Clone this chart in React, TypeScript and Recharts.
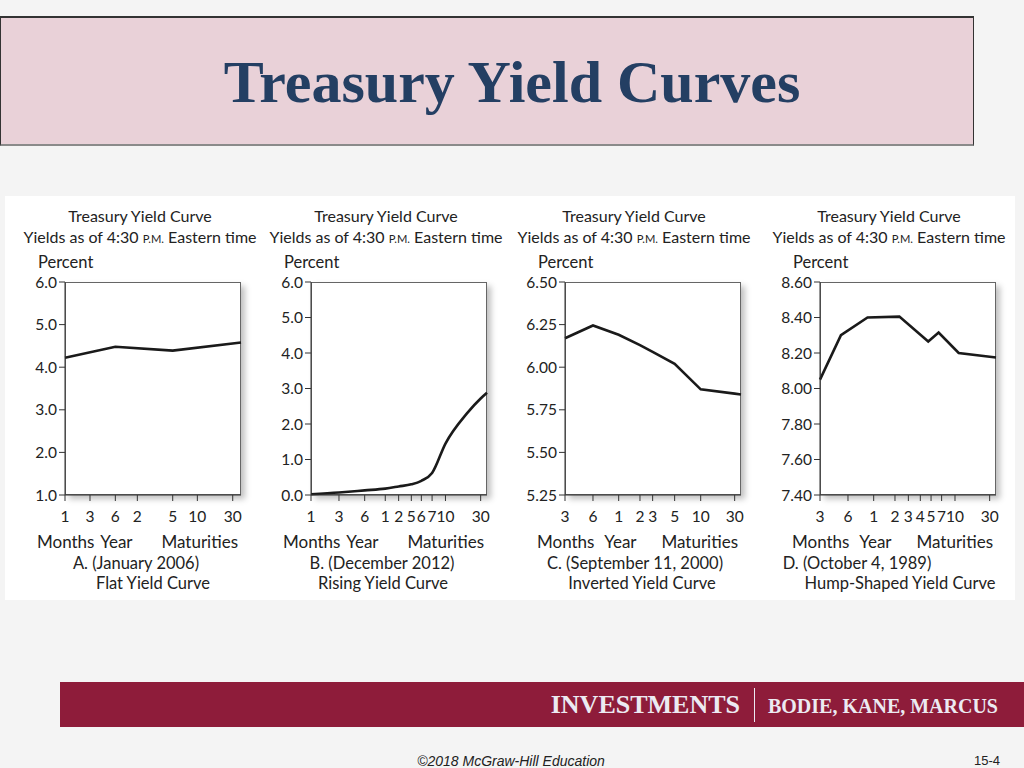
import React from 'react';
import { LineChart, Line, XAxis, YAxis } from 'recharts';

// ---------- Data ----------
// x positions are locations on each chart's (non-uniform) maturity axis, 0-100
const aTickPos = [0, 14.2, 28.6, 41.1, 61.2, 75.2, 95.3];
const aTickLabels = ['1', '3', '6', '2', '5', '10', '30'];
const aX = [0, 28.6, 61.2, 100];
const aY = [4.22, 4.48, 4.39, 4.58];
const aYTicks = [1, 2, 3, 4, 5, 6];

const bTickPos = [0, 15.9, 30.5, 42.2, 49.8, 57.0, 62.7, 68.8, 76.4, 96.4];
const bTickLabels = ['1', '3', '6', '1', '2', '5', '6', '7', '10', '30'];
const bX = [0, 15.9, 30.5, 42.2, 49.8, 57.0, 62.7, 68.8, 76.4, 88.6, 96.4, 100];
const bY = [0.02, 0.07, 0.13, 0.18, 0.24, 0.3, 0.4, 0.62, 1.45, 2.3, 2.72, 2.88];
const bYTicks = [0, 1, 2, 3, 4, 5, 6];

const cTickPos = [0, 15.9, 30.5, 42.6, 49.8, 62.3, 77.1, 96.4];
const cTickLabels = ['3', '6', '1', '2', '3', '5', '10', '30'];
const cX = [0, 15.9, 30.5, 42.6, 49.8, 62.3, 77.1, 96.4, 100];
const cY = [6.17, 6.245, 6.19, 6.13, 6.09, 6.02, 5.87, 5.845, 5.84];
const cYTicks = [5.25, 5.5, 5.75, 6.0, 6.25, 6.5];

const dTickPos = [0, 15.9, 30.5, 42.6, 50.2, 57.0, 63.1, 69.1, 76.7, 96.4];
const dTickLabels = ['3', '6', '1', '2', '3', '4', '5', '7', '10', '30'];
const dX = [0, 11.9, 27.0, 45.1, 61.5, 67.4, 78.8, 100];
const dY = [8.05, 8.3, 8.4, 8.405, 8.265, 8.315, 8.2, 8.175];
const dYTicks = [7.4, 7.6, 7.8, 8.0, 8.2, 8.4, 8.6];

const captions1 = ['A. (January 2006)', 'B. (December 2012)', 'C. (September 11, 2000)', 'D. (October 4, 1989)'];
const captions2 = ['Flat Yield Curve', 'Rising Yield Curve', 'Inverted Yield Curve', 'Hump-Shaped Yield Curve'];

// ---------- Layout ----------
const PLOT_TOP = 282;
const PLOT_W = 176;
const PLOT_H = 213;
const FONT = 'Lato, "Open Sans", sans-serif';
const INK = '#222';

type PanelCfg = {
  left: number;
  tickPos: number[];
  tickLabels: string[];
  xs: number[];
  ys: number[];
  yTicks: number[];
  decimals: number;
  curve: 'linear' | 'monotone';
  titleDx: number;
  cap1Dx: number;
  cap2Dx: number;
  caption1: string;
  caption2: string;
  monthsGap: number;
};

const panels: PanelCfg[] = [
  { left: 65, tickPos: aTickPos, tickLabels: aTickLabels, xs: aX, ys: aY, yTicks: aYTicks, decimals: 1, curve: 'linear', titleDx: 75, cap1Dx: 71, cap2Dx: 88, caption1: captions1[0], caption2: captions2[0], monthsGap: 2 },
  { left: 311, tickPos: bTickPos, tickLabels: bTickLabels, xs: bX, ys: bY, yTicks: bYTicks, decimals: 1, curve: 'monotone', titleDx: 75, cap1Dx: 71, cap2Dx: 72, caption1: captions1[1], caption2: captions2[1], monthsGap: 2 },
  { left: 565, tickPos: cTickPos, tickLabels: cTickLabels, xs: cX, ys: cY, yTicks: cYTicks, decimals: 2, curve: 'linear', titleDx: 69, cap1Dx: 70, cap2Dx: 77, caption1: captions1[2], caption2: captions2[2], monthsGap: 6 },
  { left: 820, tickPos: dTickPos, tickLabels: dTickLabels, xs: dX, ys: dY, yTicks: dYTicks, decimals: 2, curve: 'linear', titleDx: 69, cap1Dx: 37, cap2Dx: 80, caption1: captions1[3], caption2: captions2[3], monthsGap: 6 },
];

const centered = (cx: number, cy: number, text: React.ReactNode, extra: React.CSSProperties = {}) => (
  <div
    style={{
      position: 'absolute',
      left: cx - 200,
      width: 400,
      top: cy - 10,
      height: 20,
      lineHeight: '20px',
      textAlign: 'center',
      fontFamily: FONT,
      fontSize: 16,
      color: INK,
      whiteSpace: 'nowrap',
      ...extra,
    }}
  >
    {text}
  </div>
);

function Panel({ cfg }: { cfg: PanelCfg }) {
  const data = cfg.xs.map((x, i) => ({ x, y: cfg.ys[i] }));
  const L = cfg.left;
  const yAxisW = 60;
  const mTop = 10;
  const xAxisH = 35;
  return (
    <>
      {centered(L + cfg.titleDx, 216, 'Treasury Yield Curve')}
      {centered(
        L + cfg.titleDx,
        237,
        <span>
          Yields as of 4:30 <span style={{ fontSize: '0.7em' }}>P.M.</span> Eastern time
        </span>
      )}
      <div style={{ position: 'absolute', left: L - 27, top: 252, height: 20, lineHeight: '20px', fontFamily: FONT, fontSize: 16.5, color: INK }}>
        Percent
      </div>
      <div
        style={{
          position: 'absolute',
          left: L,
          top: PLOT_TOP,
          width: PLOT_W,
          height: PLOT_H,
          boxSizing: 'border-box',
          border: '1px solid #666',
          background: '#fff',
          boxShadow: '4px 4px 6px rgba(0,0,0,0.25)',
        }}
      />
      <div style={{ position: 'absolute', left: L - yAxisW, top: PLOT_TOP - mTop }}>
        <LineChart
          width={yAxisW + PLOT_W + 10}
          height={mTop + PLOT_H + xAxisH}
          data={data}
          margin={{ top: mTop, right: 10, bottom: 0, left: 0 }}
        >
          <XAxis
            dataKey="x"
            type="number"
            domain={[0, 100]}
            ticks={cfg.tickPos}
            interval={0}
            height={xAxisH}
            tickSize={6}
            tickMargin={10}
            stroke="#333"
            tick={{ fill: INK, fontSize: 15.5, fontFamily: FONT }}
            tickFormatter={(v: number) => cfg.tickLabels[cfg.tickPos.indexOf(v)] ?? ''}
          />
          <YAxis
            type="number"
            domain={[cfg.yTicks[0], cfg.yTicks[cfg.yTicks.length - 1]]}
            ticks={cfg.yTicks}
            interval={0}
            width={yAxisW}
            tickSize={6}
            tickMargin={2}
            stroke="#333"
            tick={{ fill: INK, fontSize: 15.5, fontFamily: FONT }}
            tickFormatter={(v: number) => v.toFixed(cfg.decimals)}
          />
          <Line
            type={cfg.curve}
            dataKey="y"
            stroke="#1a1a1a"
            strokeWidth={2.6}
            dot={false}
            isAnimationActive={false}
          />
        </LineChart>
      </div>
      <div style={{ position: 'absolute', left: L - 28, top: 532, height: 20, lineHeight: '20px', fontFamily: FONT, fontSize: 17, color: INK, wordSpacing: cfg.monthsGap, whiteSpace: 'nowrap' }}>
        Months Year
      </div>
      <div style={{ position: 'absolute', left: L + PLOT_W - 3 - 200, width: 200, textAlign: 'right', top: 532, height: 20, lineHeight: '20px', fontFamily: FONT, fontSize: 17, color: INK }}>
        Maturities
      </div>
      {centered(L + cfg.cap1Dx, 563, cfg.caption1, { fontSize: 16.5 })}
      {centered(L + cfg.cap2Dx, 583, cfg.caption2, { fontSize: 16.5 })}
    </>
  );
}

export default function App() {
  return (
    <div style={{ position: 'absolute', left: 0, top: 0, width: 1024, height: 768, background: '#f4f4f4', overflow: 'hidden' }}>
      {/* Title box */}
      <div
        style={{
          position: 'absolute',
          left: 0,
          top: 16,
          width: 974,
          height: 130,
          boxSizing: 'border-box',
          background: '#e9d1d8',
          borderTop: '2px solid #333',
          borderLeft: '1px solid #333',
          borderRight: '1px solid #333',
          borderBottom: '2px solid #8a8a8a',
        }}
      />
      <div
        style={{
          position: 'absolute',
          left: 0,
          width: 1024,
          top: 52,
          lineHeight: '60px',
          textAlign: 'center',
          fontFamily: '"Liberation Serif", serif',
          fontWeight: 700,
          fontSize: 60,
          color: '#243f63',
          whiteSpace: 'nowrap',
        }}
      >
        Treasury Yield Curves
      </div>

      {/* White figure panel */}
      <div style={{ position: 'absolute', left: 5, top: 196, width: 1010, height: 404, background: '#fff' }} />
      {panels.map((p, i) => (
        <Panel key={i} cfg={p} />
      ))}

      {/* Footer band */}
      <div style={{ position: 'absolute', left: 60, top: 682, width: 964, height: 45, background: '#8e1c3a' }} />
      <div
        style={{
          position: 'absolute',
          right: 1024 - 740,
          top: 690,
          lineHeight: '30px',
          fontFamily: '"Liberation Serif", serif',
          fontWeight: 700,
          fontSize: 26,
          color: '#eceaf2',
          whiteSpace: 'nowrap',
        }}
      >
        INVESTMENTS
      </div>
      <div style={{ position: 'absolute', left: 754, top: 688, width: 1, height: 34, background: '#eceaf2' }} />
      <div
        style={{
          position: 'absolute',
          right: 1024 - 998,
          top: 694,
          lineHeight: '24px',
          fontFamily: '"Liberation Serif", serif',
          fontWeight: 700,
          fontSize: 20,
          color: '#eceaf2',
          whiteSpace: 'nowrap',
        }}
      >
        BODIE, KANE, MARCUS
      </div>

      {/* Bottom line */}
      <div
        style={{
          position: 'absolute',
          left: 311,
          width: 400,
          top: 752,
          lineHeight: '18px',
          textAlign: 'center',
          fontFamily: '"Liberation Sans", Arial, sans-serif',
          fontStyle: 'italic',
          fontSize: 14,
          color: INK,
        }}
      >
        ©2018 McGraw-Hill Education
      </div>
      <div
        style={{
          position: 'absolute',
          right: 24,
          top: 752,
          lineHeight: '18px',
          fontFamily: '"Liberation Sans", Arial, sans-serif',
          fontSize: 13,
          color: INK,
        }}
      >
        15-4
      </div>
    </div>
  );
}
